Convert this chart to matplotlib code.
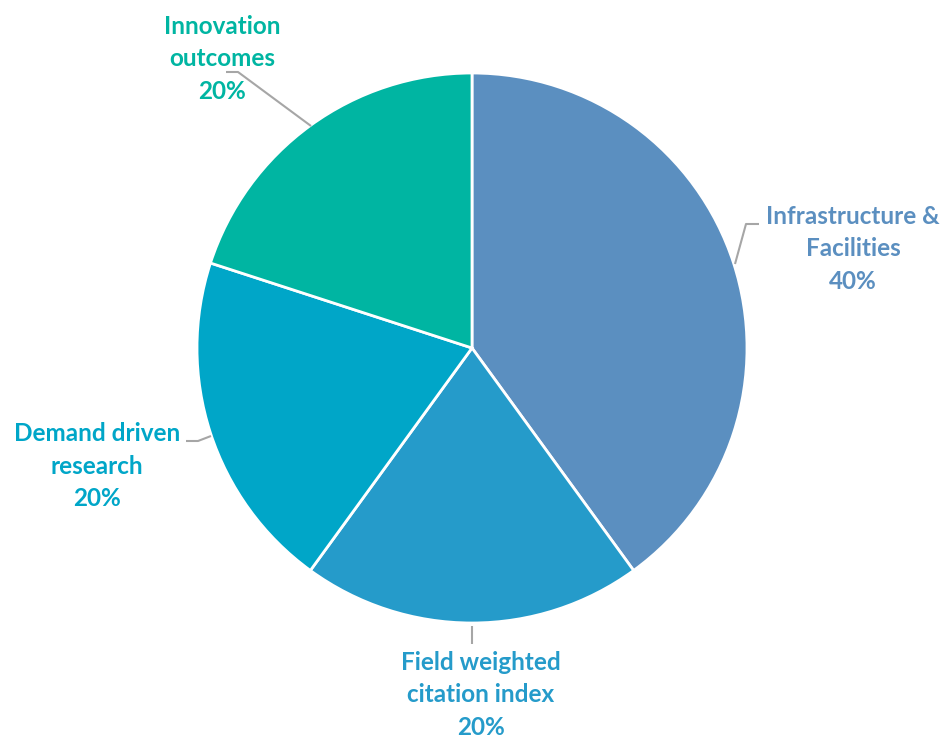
import matplotlib
matplotlib.use("Agg")
import matplotlib.pyplot as plt

categories = ["Infrastructure &\nFacilities", "Field weighted\ncitation index",
              "Demand driven\nresearch", "Innovation\noutcomes"]
shares = [40, 20, 20, 20]
colors = ["#5B8FC0", "#259BCA", "#00A6C8", "#00B5A2"]

W, H = 945, 740
fig = plt.figure(figsize=(W / 100, H / 100), dpi=100)
ax = fig.add_axes([0, 0, 1, 1])


def px(x, y):
    """Convert image-style pixel coordinates (origin top-left) to axes data."""
    return x, H - y


cx, cy = px(472, 348)
ax.pie(shares, colors=colors, startangle=90, counterclock=False,
       center=(cx, cy), radius=275,
       wedgeprops=dict(edgecolor="white", linewidth=2))
ax.set_xlim(0, W)
ax.set_ylim(0, H)
ax.set_aspect("auto")
ax.axis("off")

# label positions (centre of text block) and leader-line paths
label_pos = [(853, 249), (481, 695), (97, 466), (222, 59)]
leaders = [
    [(735, 264), (746, 224), (759, 224)],
    [(472, 626), (472, 644)],
    [(211, 436), (198, 441), (186, 441)],
    [(311, 126), (238, 72), (226, 72)],
]

for name, val, col, (lx, ly), path in zip(categories, shares, colors,
                                         label_pos, leaders):
    xs, ys = zip(*[px(x, y) for x, y in path])
    ax.plot(xs, ys, color="#A6A6A6", linewidth=1.5, solid_capstyle="butt")
    ax.text(*px(lx, ly), f"{name}\n{val}%", ha="center", va="center",
            color=col, fontsize=17.5, fontweight="bold", family="Lato",
            linespacing=1.52)

fig.savefig("out.png", dpi=100)
